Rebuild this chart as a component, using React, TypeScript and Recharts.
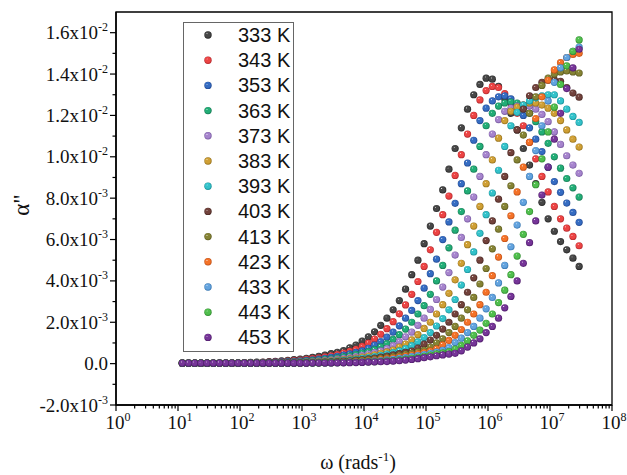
import React from 'react';
import { ScatterChart, Scatter, XAxis, YAxis, ReferenceArea, Legend } from 'recharts';

// angular frequency (rad/s), same sweep for every temperature
const omega = [
  11.75, 14.79, 18.62, 23.44, 29.51, 37.15, 46.77, 58.88, 74.13, 93.33,
  117.5, 147.9, 186.2, 234.4, 295.1, 371.5, 467.7, 588.8, 741.3, 933.3,
  1175, 1479, 1862, 2344, 2951, 3715, 4677, 5888, 7413, 9333,
  11750, 14791, 18621, 23442, 29512, 37154, 46774, 58884, 74131, 93325,
  117490, 147911, 186209, 234423, 295121, 371535, 467735, 588844, 741310, 933254,
  1174898, 1479108, 1862087, 2344229, 2951209, 3715352, 4677351, 5888437, 7413102, 9332543,
  11748976, 14791084, 18620871, 23442288, 29512092,
];

const temps = ['333 K', '343 K', '353 K', '363 K', '373 K', '383 K', '393 K', '403 K', '413 K', '423 K', '433 K', '443 K', '453 K'];

// ball colours: base + shadow
const colors = ['#474747', '#ec4444', '#356cc2', '#22ad76', '#a684cd', '#cf9f34', '#33c2ca', '#72423c', '#858334', '#f47228', '#63a3de', '#50be4d', '#763598'];
const shades = ['#222222', '#b2262a', '#1f4690', '#137550', '#74559e', '#946f18', '#178e96', '#45241f', '#5a581c', '#bc4c12', '#3474b0', '#2e8a2c', '#4c1868'];

// alpha'' values in units of 1e-3
const a333 = [
  0.02, 0.02, 0.02, 0.025, 0.025, 0.03, 0.03, 0.035, 0.04, 0.043,
  0.05, 0.06, 0.07, 0.08, 0.095, 0.11, 0.13, 0.16, 0.19, 0.22,
  0.26, 0.3, 0.35, 0.41, 0.48, 0.55, 0.63, 0.76, 0.9, 1.09,
  1.3, 1.54, 1.85, 2.2, 2.6, 3.05, 3.6, 4.3, 5.0, 5.8,
  6.65, 7.5, 8.4, 9.4, 10.4, 11.4, 12.3, 13.0, 13.5, 13.8,
  13.75, 13.4, 12.8, 12.1, 11.3, 10.4, 9.6, 8.7, 7.8, 7.0,
  6.4, 5.9, 5.5, 5.1, 4.7,
];
const a343 = [
  0.02, 0.02, 0.02, 0.02, 0.025, 0.025, 0.03, 0.03, 0.035, 0.04,
  0.045, 0.05, 0.055, 0.067, 0.077, 0.088, 0.104, 0.124, 0.146, 0.176,
  0.206, 0.238, 0.28, 0.33, 0.38, 0.44, 0.51, 0.59, 0.69, 0.83,
  0.99, 1.19, 1.42, 1.69, 2.03, 2.41, 2.84, 3.35, 3.97, 4.7,
  5.5, 6.35, 7.2, 8.1, 9.1, 10.1, 11.1, 12.0, 12.75, 13.2,
  13.4, 13.35, 13.05, 12.6, 12.1, 11.5, 10.7, 9.9, 9.05, 8.3,
  7.6, 7.0, 6.55, 6.15, 5.7,
];
const a353 = [
  0.02, 0.02, 0.02, 0.02, 0.02, 0.025, 0.025, 0.03, 0.03, 0.035,
  0.035, 0.04, 0.043, 0.05, 0.06, 0.071, 0.081, 0.094, 0.112, 0.132,
  0.158, 0.188, 0.218, 0.254, 0.3, 0.35, 0.41, 0.47, 0.54, 0.62,
  0.74, 0.89, 1.07, 1.28, 1.52, 1.83, 2.2, 2.57, 3.05, 3.65,
  4.35, 5.05, 6.0, 6.85, 7.75, 8.7, 9.7, 10.8, 11.75, 12.35,
  12.7, 12.9, 12.95, 12.8, 12.5, 12.0, 11.4, 10.85, 10.25, 9.5,
  8.8, 8.28, 7.76, 7.31, 6.83,
];
const a363 = [
  0.02, 0.02, 0.02, 0.02, 0.02, 0.02, 0.025, 0.025, 0.03, 0.03,
  0.03, 0.032, 0.037, 0.041, 0.046, 0.053, 0.066, 0.076, 0.087, 0.102,
  0.122, 0.143, 0.173, 0.203, 0.234, 0.275, 0.325, 0.376, 0.436, 0.507,
  0.58, 0.674, 0.815, 0.97, 1.17, 1.4, 1.67, 2.0, 2.4, 2.8,
  3.35, 4.0, 4.75, 5.6, 6.45, 7.35, 8.35, 9.4, 10.5, 11.5,
  12.1, 12.45, 12.6, 12.65, 12.6, 12.4, 12.1, 11.7, 11.2, 10.65,
  10.0, 9.45, 8.95, 8.5, 8.05,
];
const a373 = [
  0.02, 0.02, 0.02, 0.02, 0.02, 0.02, 0.02, 0.022, 0.025, 0.025,
  0.025, 0.028, 0.03, 0.034, 0.038, 0.043, 0.048, 0.058, 0.07, 0.08,
  0.092, 0.11, 0.13, 0.155, 0.185, 0.215, 0.25, 0.295, 0.345, 0.4,
  0.465, 0.535, 0.615, 0.73, 0.875, 1.07, 1.3, 1.52, 1.85, 2.2,
  2.62, 3.1, 3.7, 4.4, 5.25, 6.1, 7.0, 8.05, 9.05, 10.1,
  11.1, 11.8, 12.2, 12.35, 12.45, 12.5, 12.45, 12.3, 12.05, 11.7,
  11.2, 10.6, 10.05, 9.6, 9.2,
];
const a383 = [
  0.02, 0.02, 0.02, 0.02, 0.02, 0.02, 0.02, 0.02, 0.02, 0.02,
  0.02, 0.022, 0.025, 0.028, 0.03, 0.035, 0.04, 0.045, 0.052, 0.065,
  0.075, 0.085, 0.1, 0.12, 0.14, 0.17, 0.2, 0.23, 0.27, 0.32,
  0.37, 0.43, 0.5, 0.57, 0.66, 0.8, 0.95, 1.15, 1.4, 1.7,
  2.0, 2.4, 2.85, 3.4, 4.05, 4.85, 5.75, 6.65, 7.6, 8.7,
  9.85, 10.9, 11.75, 12.2, 12.4, 12.5, 12.6, 12.6, 12.5, 12.35,
  12.1, 11.75, 11.3, 10.85, 10.47,
];
const a393 = [
  0.02, 0.02, 0.02, 0.02, 0.02, 0.02, 0.02, 0.02, 0.02, 0.02,
  0.02, 0.02, 0.02, 0.02, 0.025, 0.03, 0.033, 0.037, 0.043, 0.048,
  0.058, 0.07, 0.08, 0.092, 0.11, 0.13, 0.155, 0.185, 0.215, 0.25,
  0.295, 0.345, 0.4, 0.465, 0.535, 0.615, 0.73, 0.875, 1.05, 1.26,
  1.5, 1.82, 2.18, 2.6, 3.1, 3.8, 4.55, 5.4, 6.3, 7.2,
  8.25, 9.35, 10.5, 11.5, 12.15, 12.5, 12.7, 12.85, 12.95, 13.0,
  13.0, 12.7, 12.3, 11.95, 11.66,
];
const a403 = [
  0.02, 0.02, 0.02, 0.02, 0.02, 0.02, 0.02, 0.02, 0.02, 0.02,
  0.02, 0.02, 0.02, 0.025, 0.025, 0.03, 0.03, 0.035, 0.04, 0.045,
  0.05, 0.055, 0.065, 0.075, 0.085, 0.1, 0.12, 0.14, 0.17, 0.2,
  0.23, 0.27, 0.31, 0.36, 0.42, 0.48, 0.54, 0.61, 0.75, 0.94,
  1.14, 1.37, 1.67, 2.0, 2.4, 2.85, 3.45, 4.15, 5.0, 5.95,
  6.9, 7.95, 9.05, 10.2, 11.3, 12.3, 12.95, 13.35, 13.6, 13.7,
  13.72, 13.65, 13.35, 13.08, 12.88,
];
const a413 = [
  0.02, 0.02, 0.02, 0.02, 0.02, 0.02, 0.02, 0.02, 0.02, 0.02,
  0.02, 0.02, 0.02, 0.02, 0.02, 0.025, 0.025, 0.03, 0.03, 0.035,
  0.04, 0.045, 0.05, 0.06, 0.07, 0.08, 0.09, 0.11, 0.135, 0.16,
  0.185, 0.21, 0.25, 0.29, 0.34, 0.39, 0.45, 0.5, 0.57, 0.64,
  0.8, 1.0, 1.2, 1.5, 1.8, 2.2, 2.6, 3.2, 3.85, 4.6,
  5.55, 6.5, 7.6, 8.6, 9.85, 11.05, 12.1, 12.9, 13.45, 13.8,
  14.0, 14.1, 14.15, 14.1, 14.05,
];
const a423 = [
  0.02, 0.02, 0.02, 0.02, 0.02, 0.02, 0.02, 0.02, 0.02, 0.02,
  0.02, 0.02, 0.02, 0.02, 0.02, 0.02, 0.02, 0.025, 0.025, 0.03,
  0.03, 0.035, 0.04, 0.045, 0.05, 0.06, 0.07, 0.08, 0.095, 0.12,
  0.14, 0.17, 0.2, 0.24, 0.27, 0.31, 0.36, 0.41, 0.47, 0.53,
  0.6, 0.72, 0.91, 1.12, 1.37, 1.65, 2.0, 2.4, 2.85, 3.45,
  4.25, 5.15, 6.05, 7.15, 8.3, 9.5, 10.7, 11.85, 12.9, 13.7,
  14.2, 14.55, 14.8, 14.95, 15.0,
];
const a433 = [
  0.02, 0.02, 0.02, 0.02, 0.02, 0.02, 0.02, 0.02, 0.02, 0.02,
  0.02, 0.02, 0.02, 0.02, 0.02, 0.02, 0.02, 0.02, 0.025, 0.025,
  0.03, 0.03, 0.035, 0.04, 0.045, 0.05, 0.06, 0.07, 0.08, 0.09,
  0.105, 0.13, 0.15, 0.18, 0.21, 0.25, 0.29, 0.34, 0.39, 0.44,
  0.5, 0.56, 0.64, 0.78, 1.02, 1.23, 1.5, 1.8, 2.2, 2.65,
  3.2, 3.9, 4.75, 5.65, 6.7, 7.8, 9.05, 10.3, 11.5, 12.7,
  13.6, 14.3, 14.8, 15.1, 15.3,
];
const a443 = [
  0.02, 0.02, 0.02, 0.02, 0.02, 0.02, 0.02, 0.02, 0.02, 0.02,
  0.02, 0.02, 0.02, 0.02, 0.02, 0.02, 0.02, 0.02, 0.02, 0.02,
  0.025, 0.03, 0.03, 0.035, 0.04, 0.045, 0.05, 0.055, 0.065, 0.075,
  0.085, 0.095, 0.11, 0.13, 0.15, 0.18, 0.22, 0.26, 0.3, 0.35,
  0.41, 0.47, 0.52, 0.58, 0.7, 0.88, 1.1, 1.37, 1.62, 1.95,
  2.4, 2.95, 3.55, 4.3, 5.2, 6.25, 7.35, 8.65, 9.9, 11.2,
  12.4, 13.5, 14.4, 15.1, 15.65,
];
const a453 = [
  0.02, 0.02, 0.02, 0.02, 0.02, 0.02, 0.02, 0.02, 0.02, 0.02,
  0.02, 0.02, 0.02, 0.02, 0.02, 0.02, 0.02, 0.02, 0.02, 0.02,
  0.02, 0.025, 0.025, 0.03, 0.03, 0.035, 0.04, 0.045, 0.05, 0.06,
  0.07, 0.08, 0.09, 0.1, 0.12, 0.14, 0.17, 0.2, 0.24, 0.29,
  0.33, 0.38, 0.42, 0.46, 0.5, 0.62, 0.8, 1.0, 1.2, 1.5,
  1.8, 2.2, 2.7, 3.25, 4.0, 4.85, 5.85, 6.9, 8.15, 9.5,
  10.85, 12.1, 13.3, 14.3, 15.2,
];

const series = [a333, a343, a353, a363, a373, a383, a393, a403, a413, a423, a433, a443, a453];

// axis ticks
const decades = [1, 10, 100, 1e3, 1e4, 1e5, 1e6, 1e7, 1e8];
const xTicks: number[] = [];
decades.forEach((d, i) => {
  xTicks.push(d);
  if (i < decades.length - 1) [2, 3, 4, 5, 6, 7, 8, 9].forEach(m => xTicks.push(d * m));
});
const yTicks = [-2, -1, 0, 1, 2, 3, 4, 5, 6, 7, 8, 9, 10, 11, 12, 13, 14, 15, 16];

const PLOT_LEFT = 116;
const PLOT_BOTTOM = 405;
const SERIF = '"Liberation Serif", "Times New Roman", serif';

const XTick = ({ x, payload }: any) => {
  const v = payload.value;
  const e = Math.round(Math.log10(v));
  const major = Math.abs(v - Math.pow(10, e)) < v * 1e-6;
  return (
    <g>
      <line x1={x} x2={x} y1={PLOT_BOTTOM} y2={PLOT_BOTTOM + (major ? 6 : 3.5)} stroke="#000" strokeWidth={1.2} />
      {major && (
        <text x={x + 2} y={429} textAnchor="middle" fontFamily={SERIF} fontSize={19} fill="#111">
          10<tspan dy={-8} fontSize={12}>{e}</tspan>
        </text>
      )}
    </g>
  );
};

const YTick = ({ y, payload }: any) => {
  const v = payload.value;
  const major = v % 2 === 0;
  let label: React.ReactNode = null;
  if (major) {
    if (v === 0) label = '0.0';
    else if (Math.abs(v) >= 10) label = <>{(v / 10).toFixed(1)}x10<tspan dy={-8} fontSize={12}>-2</tspan></>;
    else label = <>{v.toFixed(1)}x10<tspan dy={-8} fontSize={12}>-3</tspan></>;
  }
  return (
    <g>
      <line x1={PLOT_LEFT - (major ? 6 : 3.5)} x2={PLOT_LEFT} y1={y} y2={y} stroke="#000" strokeWidth={1.2} />
      {major && (
        <text x={108} y={y + 6.5} textAnchor="end" fontFamily={SERIF} fontSize={19} fill="#111">
          {label}
        </text>
      )}
    </g>
  );
};

const XLabel = () => (
  <text x={358} y={469} textAnchor="middle" fontFamily={SERIF} fontSize={20} fill="#111">
    ω (rads<tspan dy={-8} fontSize={13}>-1</tspan><tspan dy={8}>)</tspan>
  </text>
);

const YLabel = () => (
  <text transform="translate(29,205) rotate(-90)" textAnchor="middle" fontFamily={SERIF} fontSize={23} fill="#111">
    α"
  </text>
);

const Ball = (i: number) => (props: any) => {
  const { cx, cy } = props;
  if (cx == null || cy == null) return null;
  return <circle cx={cx} cy={cy} r={3.6} fill={`url(#ball${i})`} />;
};

const LegendBox = () => (
  <div style={{ width: 111, height: 330, border: '1.5px solid #666', boxSizing: 'border-box', background: '#fff' }}>
    <svg width={108} height={327}>
      {temps.map((t, i) => (
        <g key={t}>
          <circle cx={24} cy={12 + 25.2 * i} r={3.7} fill={`url(#ball${i})`} />
          <text x={54} y={12 + 25.2 * i + 7} fontFamily='"Liberation Sans", Arial, sans-serif' fontSize={20} fill="#111">
            {t}
          </text>
        </g>
      ))}
    </svg>
  </div>
);

export default function App() {
  return (
    <div style={{ position: 'absolute', left: 0, top: 0, width: 627, height: 475, background: '#fff' }}>
      <ScatterChart width={627} height={475} margin={{ top: 12, right: 15, bottom: 30, left: 0 }}>
        <defs>
          {colors.map((c, i) => (
            <radialGradient key={c} id={`ball${i}`} cx="50%" cy="50%" r="50%" fx="34%" fy="30%">
              <stop offset="0%" stopColor="#ffffff" stopOpacity={0.95} />
              <stop offset="22%" stopColor={c} />
              <stop offset="70%" stopColor={c} />
              <stop offset="100%" stopColor={shades[i]} />
            </radialGradient>
          ))}
        </defs>
        <XAxis
          dataKey="x"
          type="number"
          scale="log"
          domain={[1, 1e8]}
          ticks={xTicks}
          interval={0}
          allowDataOverflow
          height={40}
          tickLine={false}
          tick={<XTick />}
          axisLine={{ stroke: '#000', strokeWidth: 1.5 }}
          label={<XLabel />}
        />
        <YAxis
          dataKey="y"
          type="number"
          domain={[-2, 17]}
          ticks={yTicks}
          interval={0}
          allowDataOverflow
          width={116}
          tickLine={false}
          tick={<YTick />}
          axisLine={{ stroke: '#000', strokeWidth: 1.5 }}
          label={<YLabel />}
        />
        <ReferenceArea x1={1} x2={1e8} y1={-2} y2={17} fill="none" stroke="#000" strokeWidth={1.3} />
        {series.map((vals, i) => (
          <Scatter
            key={temps[i]}
            name={temps[i]}
            data={vals.map((v, k) => ({ x: omega[k], y: v }))}
            fill={colors[i]}
            shape={Ball(i)}
            isAnimationActive={false}
          />
        ))}
        <Legend
          layout="vertical"
          align="center"
          verticalAlign="middle"
          content={<LegendBox />}
          wrapperStyle={{ left: 183, top: 22, width: 111, height: 330 }}
        />
      </ScatterChart>
    </div>
  );
}
